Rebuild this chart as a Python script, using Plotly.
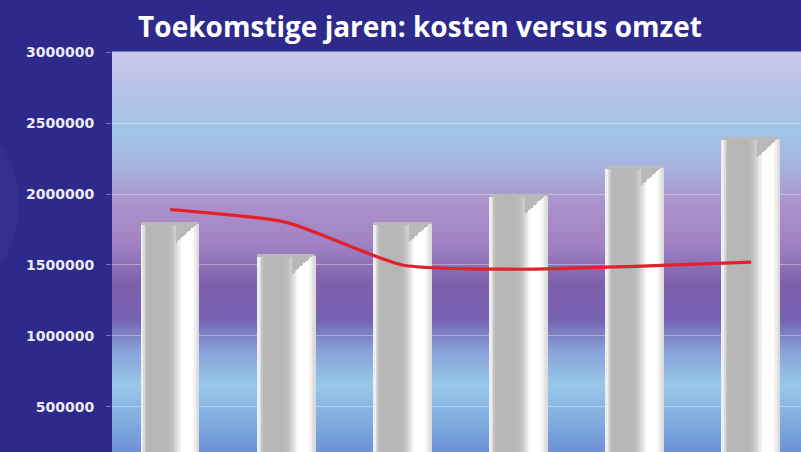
import plotly.graph_objects as go

# ---------------- data ----------------
jaren = ["Jaar 1", "Jaar 2", "Jaar 3", "Jaar 4", "Jaar 5", "Jaar 6"]
omzet = [1800000, 1580000, 1800000, 2000000, 2200000, 2400000]
kosten = [1890000, 1800000, 1500000, 1470000, 1490000, 1520000]
y_ticks = [500000, 1000000, 1500000, 2000000, 2500000, 3000000]
titel = "Toekomstige jaren: kosten versus omzet"

# ---------------- styling helpers ----------------
NAVY = "#2d2a8c"
FIG_W, FIG_H = 801, 452
M_L, M_T = 112, 52
Y_MIN, Y_MAX = 183000, 3000000
PLOT_H = FIG_H - M_T
PX_PER_VAL = PLOT_H / (Y_MAX - Y_MIN)
BAR_W = 0.5


def lerp(stops, t):
    for (t0, v0), (t1, v1) in zip(stops, stops[1:]):
        if t0 <= t <= t1:
            a = 0 if t1 == t0 else (t - t0) / (t1 - t0)
            if isinstance(v0, tuple):
                return tuple(v0[k] + (v1[k] - v0[k]) * a for k in range(3))
            return v0 + (v1 - v0) * a
    return stops[-1][1]


fig = go.Figure()

# backing bar (top face colour)
fig.add_trace(go.Bar(x=jaren, y=omzet, width=BAR_W, marker=dict(color="#b9b9bb", line=dict(width=0)),
                     showlegend=False, hoverinfo="skip"))

# bar shading strips
grey_stops = [(0.0, 238), (0.04, 238), (0.075, 205), (0.11, 183), (0.45, 182), (0.55, 192),
              (0.62, 218), (0.70, 250), (0.72, 255), (0.88, 255), (0.93, 242), (1.0, 214)]
N = 40
for i in range(N):
    f0, f1 = i / N, (i + 1) / N
    fm = (f0 + f1) / 2
    g = int(round(lerp(grey_stops, fm)))
    if fm < 0.6:
        off_px = 3
    else:
        off_px = max(2, (1 - fm) * 58 * 0.9)
    off_val = off_px / PX_PER_VAL
    fig.add_trace(go.Bar(
        x=jaren, y=[v - off_val for v in omzet],
        width=(f1 - f0) * BAR_W + 0.002, offset=-BAR_W / 2 + f0 * BAR_W,
        marker=dict(color=f"rgb({g},{g},{g})", line=dict(width=0)),
        showlegend=False, hoverinfo="skip"))

# cost line
fig.add_trace(go.Scatter(x=jaren, y=kosten, mode="lines",
                         line=dict(color="#e3212b", width=3.2, shape="spline", smoothing=0.6),
                         showlegend=False))

# background gradient for the plot area
bg_stops = [
    (52, (202, 200, 236)), (90, (182, 194, 230)), (130, (162, 198, 232)),
    (170, (168, 176, 222)), (205, (172, 146, 204)), (245, (160, 130, 196)),
    (285, (126, 96, 172)), (320, (118, 98, 178)), (350, (136, 160, 216)),
    (385, (152, 200, 234)), (420, (130, 174, 224)), (452, (110, 146, 216)),
]
shapes = []
step = 4
for yp in range(M_T, FIG_H, step):
    c = lerp(bg_stops, yp + step / 2)
    y0 = 1 - (yp - M_T) / PLOT_H
    y1 = 1 - (yp + step - M_T) / PLOT_H
    shapes.append(dict(type="rect", xref="paper", yref="paper", x0=0, x1=1, y0=y1, y1=y0 + 0.001,
                       fillcolor=f"rgb({int(c[0])},{int(c[1])},{int(c[2])})",
                       line=dict(width=0), layer="below"))
# faint watermark on the left
shapes.append(dict(type="circle", xref="paper", yref="paper",
                   x0=-0.3, x1=-0.135, y0=0.42, y1=0.82,
                   fillcolor="rgba(255,255,255,0.03)", line=dict(width=0), layer="below"))

fig.update_layout(
    width=FIG_W, height=FIG_H,
    margin=dict(l=M_L, r=0, t=M_T, b=0, pad=0),
    paper_bgcolor=NAVY, plot_bgcolor="#b0c0e4",
    barmode="overlay", bargap=0,
    shapes=shapes,
    title=dict(text=titel, x=420 / FIG_W, xanchor="center", y=1 - 27 / FIG_H, yanchor="middle",
               xref="container", yref="container",
               font=dict(family="Open Sans", size=28, color="white", weight=700)),
)
fig.update_xaxes(range=[-0.5, 5.43], showticklabels=False, showgrid=False, zeroline=False,
                 automargin=False, fixedrange=True)
fig.update_yaxes(range=[Y_MIN, Y_MAX], tickvals=y_ticks, ticktext=[str(v) for v in y_ticks],
                 showgrid=True, gridcolor="rgba(255,255,255,0.35)", gridwidth=1,
                 zeroline=False, ticks="outside", ticklen=5, tickcolor="rgba(255,255,255,0.35)",
                 ticklabelstandoff=9, automargin=False,
                 tickfont=dict(family="DejaVu Sans", size=14, color="#ececf6", weight=700))

fig.write_html("out.html")
